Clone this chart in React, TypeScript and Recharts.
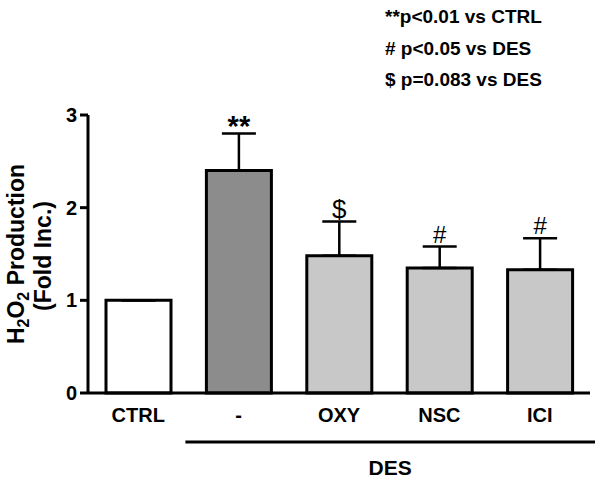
import React from 'react';
import { BarChart, Bar, XAxis, YAxis, ErrorBar, Cell, LabelList } from 'recharts';

const categories = ['CTRL', '-', 'OXY', 'NSC', 'ICI'];
const meanValues = [1.0, 2.4, 1.48, 1.35, 1.33];
const semValues = [0, 0.4, 0.37, 0.23, 0.34];
const sigMarks = ['', '**', '$', '#', '#'];
const yTicks = [0, 1, 2, 3];
const groupLabel = 'DES';
const groupFirst = '-';
const notes = ['**p<0.01 vs CTRL', '# p<0.05 vs DES', '$ p=0.083 vs DES'];

const barFills = ['#ffffff', '#8c8c8c', '#c8c8c8', '#c8c8c8', '#c8c8c8'];
const FONT = '"Liberation Sans", Arial, sans-serif';

const data = categories.map((c, i) => ({
  name: c,
  value: meanValues[i],
  err: [0, semValues[i]],
  sig: sigMarks[i],
}));

const SigLabel = (props: any) => {
  const vb = props.viewBox || props;
  const mark = props.value;
  if (!mark) return null;
  let idx = props.index;
  if (idx === undefined || idx === null) idx = sigMarks.indexOf(mark);
  const x = Number(vb.x);
  const y = Number(vb.y);
  const w = Number(vb.width);
  const h = Math.abs(Number(vb.height));
  const v = meanValues[idx];
  const e = semValues[idx];
  const capY = y - (e * h) / v;
  const isStar = mark === '**';
  const size = isStar ? 29 : mark === '$' ? 26 : 24;
  const base = isStar ? capY + 2 : capY - 4;
  return (
    <text
      x={x + w / 2}
      y={base}
      textAnchor="middle"
      fontFamily={FONT}
      fontSize={size}
      fontWeight={isStar ? 'bold' : 'normal'}
      fill="#000"
    >
      {mark}
    </text>
  );
};

const GroupLabel = (props: any) => {
  const vb = props.viewBox;
  if (!vb) return null;
  const band = vb.width / categories.length;
  const start = vb.x + band * categories.indexOf(groupFirst);
  const x1 = start - 3;
  const x2 = vb.x + vb.width + 5;
  const ly = vb.y + 49;
  return (
    <g>
      <line x1={x1} x2={x2} y1={ly} y2={ly} stroke="#000" strokeWidth={3} />
      <text x={(x1 + x2) / 2} y={ly + 33} textAnchor="middle" fontFamily={FONT} fontSize={21} fontWeight="bold" fill="#000">
        {groupLabel}
      </text>
    </g>
  );
};

const YLabel = (props: any) => {
  const vb = props.viewBox;
  if (!vb) return null;
  const cy = vb.y + vb.height / 2;
  const x1 = 24;
  const x2 = 51;
  return (
    <g fontFamily={FONT} fontWeight="bold" fill="#000">
      <text x={x1} y={cy} transform={`rotate(-90 ${x1} ${cy})`} textAnchor="middle" fontSize={23}>
        H<tspan fontSize={16} dy={5}>2</tspan>
        <tspan dy={-5}>O</tspan>
        <tspan fontSize={16} dy={5}>2</tspan>
        <tspan dy={-5}> Production</tspan>
      </text>
      <text x={x2} y={cy + 2} transform={`rotate(-90 ${x2} ${cy + 2})`} textAnchor="middle" fontSize={23}>
        (Fold Inc.)
      </text>
    </g>
  );
};

export default function App() {
  return (
    <div style={{ position: 'absolute', left: 0, top: 0, width: 600, height: 481, background: '#fff' }}>
      <BarChart
        width={600}
        height={481}
        data={data}
        margin={{ top: 115, right: 10, bottom: 58, left: 28 }}
        barSize={65}
      >
        <XAxis
          dataKey="name"
          height={30}
          axisLine={{ stroke: '#000', strokeWidth: 3 }}
          tickLine={false}
          tickSize={0}
          tickMargin={15}
          tick={{ fontFamily: FONT, fontSize: 20, fontWeight: 'bold', fill: '#000' }}
          label={<GroupLabel />}
          interval={0}
        />
        <YAxis
          width={60}
          domain={[0, 3]}
          ticks={yTicks}
          axisLine={{ stroke: '#000', strokeWidth: 3 }}
          tickLine={{ stroke: '#000', strokeWidth: 3 }}
          tickSize={8}
          tickMargin={3}
          tick={{ fontFamily: FONT, fontSize: 20, fontWeight: 'bold', fill: '#000' }}
          label={<YLabel />}
        />
        <Bar dataKey="value" stroke="#000" strokeWidth={3} isAnimationActive={false}>
          {data.map((d, i) => (
            <Cell key={d.name} fill={barFills[i]} />
          ))}
          <ErrorBar dataKey="err" direction="y" width={17} stroke="#000" strokeWidth={2.5} isAnimationActive={false} />
          <LabelList dataKey="sig" content={<SigLabel />} />
        </Bar>
      </BarChart>
      <svg width={600} height={481} style={{ position: 'absolute', left: 0, top: 0, pointerEvents: 'none' }}>
        {notes.map((n, i) => (
          <text key={n} x={385} y={23 + i * 31.5} fontFamily={FONT} fontSize={19} fontWeight="bold" fill="#000">
            {n}
          </text>
        ))}
      </svg>
    </div>
  );
}
